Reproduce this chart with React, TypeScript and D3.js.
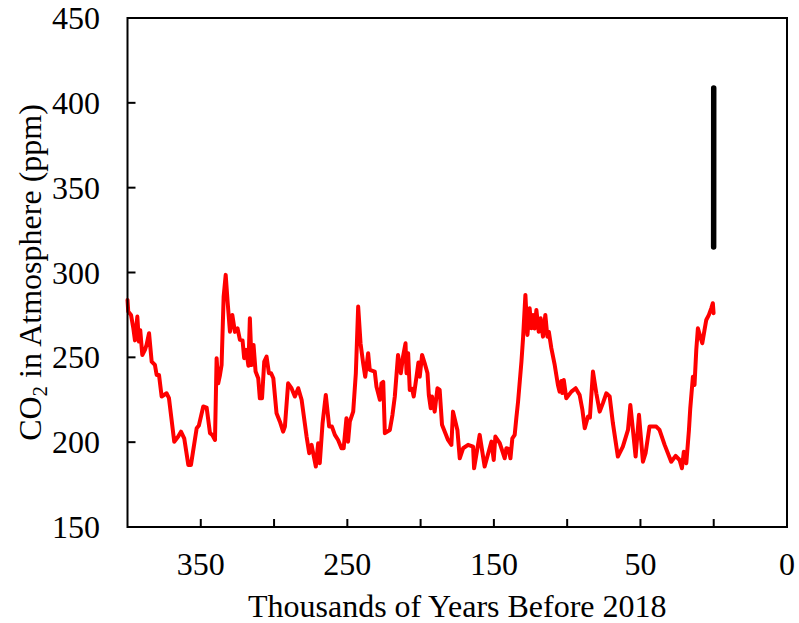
import React from "react";
import * as d3 from "d3";

// Ice-core record: thousands of years before 2018 and CO2 (ppm)
const iceAge = [
  400, 399.5, 397.6, 396, 394.9, 393.3, 392.2, 391.3, 389.9, 388.1, 387, 385.3, 383.5, 381.3, 380.1, 378.5,
  376.7, 373.3, 371.7, 368.1, 365.4, 363.5, 361.3, 358.5, 356.7, 352.8, 351.3, 348.3, 346, 343.7, 342.2,
  340.3, 339.2, 338.1, 336.9, 335.8, 334.4, 333.0, 331.7, 330.1, 328.5, 326.7, 324.9, 323.3, 321.5, 320.4,
  319, 317.5, 316.5, 315.3, 314, 312.6, 310.8, 309.7, 308.2, 306.7, 305.1, 303.5, 302, 300.5, 298.3, 296,
  293.8, 292.6, 290.4, 288.1, 285.8, 283.5, 281.2, 277.8, 276, 274.4, 271.5, 269.9, 268.8, 266.9, 264.7,
  262.4, 260.5, 258.5, 256.3, 254, 252.5, 250.6, 249.5, 248.3, 246, 244.2, 242.6, 241, 239.2, 237.8, 235.8,
  234.7, 231.3, 230.1, 227.8, 226.7, 225.5, 224.4, 221, 219.2, 217.6, 215.4, 213.5, 212, 210.3, 209.6, 208.5,
  207.4, 205.8, 204.7, 202.8, 201.5, 200.6, 199, 197.2, 195.3, 194.4, 193.1, 192.2, 190.4, 188.5, 187, 185.4,
  183.1, 181.3, 179, 177.9, 174.9, 173.3, 171, 167.6, 164.2, 163.5, 159.7, 156.3, 151.7, 150.1, 149, 146,
  142.6, 141.5, 140, 138.7, 137.4, 135.8, 134.7, 133.5, 131.2, 130.1, 128.5, 127.1, 125.6, 124.4, 123.3,
  122.2, 121, 119.4, 118.1, 116.5, 114.9, 113.5, 112.5, 110.8, 108.5, 106.3, 105.2, 104, 103.3, 102.3, 100.6,
  97.1, 94.2, 91.5, 89.6, 88, 85.8, 84.5, 82.4, 80.1, 77.8, 75.6, 73.3, 71, 68.8, 65.4, 62, 58.5, 56.9, 55.6,
  53.3, 51, 48.3, 46.5, 43.8, 39.2, 37, 33.5, 29, 26, 23.3, 21.7, 20.4, 18.7, 16.9, 16, 14.2, 13.1, 11.9,
  10.8, 9.2, 7.8, 6.3, 5.1, 3.3, 1.7, 0.6, 0.1,
];
const iceCO2 = [
  283.8, 277, 275, 267, 260, 274, 259.3, 266, 251.4, 254.4, 257.3, 264.2, 247.5, 245.5, 239.6, 239.6,
  226.9, 228.8, 225.9, 200.3, 203.3, 206.2, 202.3, 186.6, 186.6, 208.2, 209.8, 221, 220.4, 205.3, 204.3,
  201.3, 249.5, 234.7, 239.6, 245.5, 285.8, 298.6, 282.8, 265.1, 275, 265, 267.1, 260.3, 260, 249.5,
  254.4, 245, 273, 245.5, 257.3, 241.6, 237.7, 225.9, 225.9, 247.5, 250.4, 240.6, 240.6, 237.7, 217, 212.1,
  206.2, 209.2, 234.7, 231.8, 226.9, 231.8, 225, 203.3, 193.5, 198.4, 185.6, 199.4, 187.6, 211.2, 227.8,
  209.2, 209.2, 204.3, 201.3, 196.4, 196.4, 214.1, 200.3, 212.1, 218, 240.6, 279.9, 258.3, 246.5, 238.6, 252.4,
  242.6, 241.6, 232.7, 225, 234.7, 235.5, 205.3, 207.2, 216.1, 226.9, 251.4, 240.6, 250.4, 258.3, 240.6, 252.4,
  230.8, 231.5, 226.9, 238.6, 247, 238.6, 251.4, 246.5, 240.6, 227.8, 220, 226.9, 218, 231.8, 230.8, 210.2,
  205.3, 201.3, 198.4, 218, 207.2, 190.5, 196.4, 198.4, 197.4, 184.6, 204.3, 185.6, 200.3, 189.5, 203.3, 199.4,
  190.5, 196.4, 196, 190.5, 202.3, 204.3, 214.1, 223.9, 247.5, 261.3, 286.8, 263.2, 278.9, 267.1, 275,
  267, 277.9, 265.1, 273, 262.2, 275, 262.2, 265, 255.4, 245.5, 233.7, 229.8, 236, 229, 236.7, 225.9,
  229.8, 231.8, 227.8, 219, 208.2, 215.1, 214.5, 241.6, 228.8, 218, 223, 228.8, 226.9, 211.2, 191.5, 197.4, 207.2, 221.9, 211.2,
  191.5, 216.1, 188.5, 193.5, 209.2, 209.2, 207.2, 198.4, 188.5, 191.9, 189.5, 184.6, 194.4, 187.6, 207.2, 220, 238.6, 233.7, 254.4,
  267.1, 262.2, 258.3, 266, 272, 275, 278.9, 281.9, 276,
];

// Modern instrumental record (1958-2018)
const modernAge = [0.06, 0.048, 0.038, 0.028, 0.018, 0.008, 0.0];
const modernCO2 = [315, 325.7, 338.7, 354.4, 369.7, 389.9, 408.7];

const xTickValues = [350, 250, 150, 50, -50];
const xTickLabels = ["350", "250", "150", "50", "0"];
const xMinorTicks = [350, 300, 250, 200, 150, 100, 50, 0, -50];
const yTickValues = [150, 200, 250, 300, 350, 400, 450];

const W = 799;
const H = 623;
const left = 127.5;
const right = 787;
const top = 18;
const bottom = 527;
const FONT = "'Liberation Serif', 'Times New Roman', serif";
const FS = 32;

export default function App() {
  const x = d3.scaleLinear().domain([400, -50]).range([left, right]);
  const y = d3.scaleLinear().domain([150, 450]).range([bottom, top]);

  const iceData = iceAge.map((a, i) => [a, iceCO2[i]] as [number, number]);
  const modData = modernAge.map((a, i) => [a, modernCO2[i]] as [number, number]);
  const line = d3
    .line<[number, number]>()
    .x((d) => x(d[0]))
    .y((d) => y(d[1]));

  return (
    <svg
      width={W}
      height={H}
      style={{ position: "absolute", left: 0, top: 0, background: "#fff" }}
      fontFamily={FONT}
    >
      <rect x={0} y={0} width={W} height={H} fill="#fff" />
      <path
        d={line(iceData) || ""}
        fill="none"
        stroke="#ff0000"
        strokeWidth={4}
        strokeLinejoin="round"
        strokeLinecap="round"
      />
      <path
        d={line(modData) || ""}
        fill="none"
        stroke="#000"
        strokeWidth={5.5}
        strokeLinejoin="round"
        strokeLinecap="round"
      />
      {/* frame */}
      <rect x={left} y={top} width={right - left} height={bottom - top} fill="none" stroke="#000" strokeWidth={2} />
      {/* y ticks */}
      {yTickValues.map((v) => (
        <g key={"y" + v}>
          <line x1={left} x2={left + 8} y1={y(v)} y2={y(v)} stroke="#000" strokeWidth={2} />
          <text x={100} y={y(v)} textAnchor="end" dominantBaseline="central" fontSize={FS} fill="#000">
            {v}
          </text>
        </g>
      ))}
      {/* x ticks */}
      {xMinorTicks.map((v) => (
        <line key={"xm" + v} x1={x(v)} x2={x(v)} y1={bottom} y2={bottom - 8} stroke="#000" strokeWidth={2} />
      ))}
      {xTickValues.map((v, i) => (
        <text key={"xl" + v} x={x(v)} y={575} textAnchor="middle" fontSize={FS} fill="#000">
          {xTickLabels[i]}
        </text>
      ))}
      <text x={(left + right) / 2} y={617} textAnchor="middle" fontSize={FS} fill="#000">
        Thousands of Years Before 2018
      </text>
      <text transform={`translate(41,${(top + bottom) / 2}) rotate(-90)`} textAnchor="middle" fontSize={FS} fill="#000">
        CO
        <tspan dy={6} fontSize={21}>
          2
        </tspan>
        <tspan dy={-6}> in Atmosphere (ppm)</tspan>
      </text>
    </svg>
  );
}
